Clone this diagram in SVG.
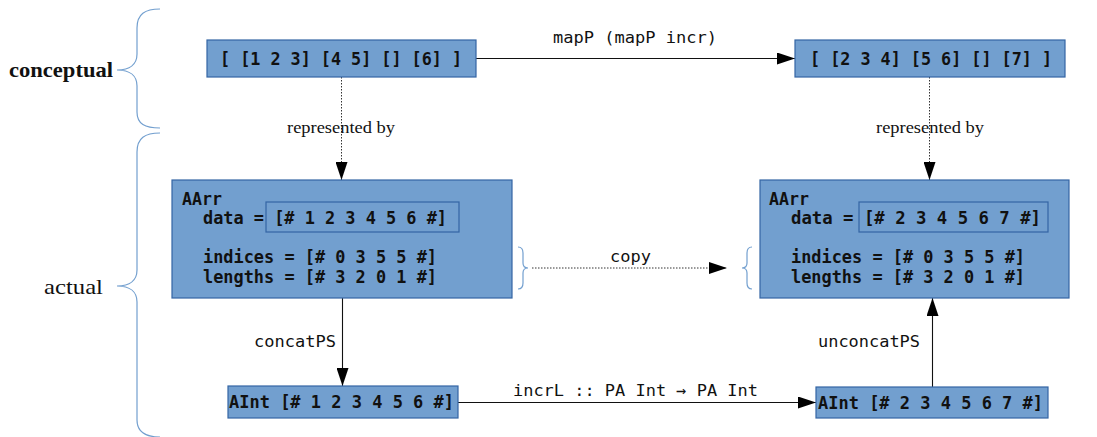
<svg xmlns="http://www.w3.org/2000/svg" width="1097" height="437" viewBox="0 0 1097 437">
  <style>
    .box { fill: #729fcf; stroke: #3465a4; stroke-width: 1.2; }
    .inner { fill: none; stroke: #3465a4; stroke-width: 1.2; }
    .code { font-family: "DejaVu Sans Mono", "Liberation Mono", monospace; font-weight: bold; font-size: 18px; fill: #111; }
    .lbl { font-family: "DejaVu Sans Mono", "Liberation Mono", monospace; font-size: 16.5px; fill: #111; }
    .serif { font-family: "Liberation Serif", "DejaVu Serif", serif; fill: #111; }
    .brace { fill: none; stroke: #729fcf; stroke-width: 1.2; }
    .solid { fill: none; stroke: #111; stroke-width: 1.1; }
    .dot { fill: none; stroke: #333; stroke-width: 1; stroke-dasharray: 1.5 1.5; }
  </style>
  <defs>
    <marker id="arrow" markerUnits="userSpaceOnUse" markerWidth="18" markerHeight="12" refX="18" refY="6" orient="auto">
      <path d="M0,0 L18,6 L0,12 z" fill="#000"/>
    </marker>
  </defs>

  <!-- level braces and captions -->
  <g id="levels">
    <path class="brace" d="M160,9 C145,9 137,14 137,28 L137,54 C137,64 130,70 117,70 C130,70 137,76 137,86 L137,112 C137,124 145,128 160,128"/>
    <path class="brace" d="M160,133 C145,133 137,138 137,152 L137,270 C137,280 130,286 117,286 C130,286 137,292 137,302 L137,420 C137,432 145,437 160,437"/>
    <text class="serif" x="9" y="77" font-size="22" font-weight="bold" textLength="104" lengthAdjust="spacingAndGlyphs">conceptual</text>
    <text class="serif" x="44" y="294" font-size="22" textLength="59" lengthAdjust="spacingAndGlyphs">actual</text>
  </g>

  <!-- connectors -->
  <g id="connectors">
    <line class="solid" x1="476" y1="58.5" x2="795" y2="58.5" marker-end="url(#arrow)"/>
    <text class="lbl" x="553" y="43" textLength="164" lengthAdjust="spacingAndGlyphs">mapP (mapP incr)</text>

    <line class="dot" x1="341.5" y1="77" x2="341.5" y2="180" marker-end="url(#arrow)"/>
    <text class="serif" x="287" y="133" font-size="16" textLength="108" lengthAdjust="spacingAndGlyphs">represented by</text>

    <line class="dot" x1="929.5" y1="77" x2="929.5" y2="180" marker-end="url(#arrow)"/>
    <text class="serif" x="876" y="133" font-size="16" textLength="108" lengthAdjust="spacingAndGlyphs">represented by</text>

    <!-- small braces around indices/lengths, joined by the copy arrow -->
    <path class="brace" d="M518,247 C522,247 523,249 523,253 L523,263 C523,266 525,268 528,268 C525,268 523,270 523,273 L523,283 C523,287 522,289 518,289"/>
    <path class="brace" d="M752,247 C748,247 747,249 747,253 L747,263 C747,266 745,268 742,268 C745,268 747,270 747,273 L747,283 C747,287 748,289 752,289"/>
    <line class="dot" x1="532" y1="268" x2="727" y2="268" marker-end="url(#arrow)"/>
    <text class="lbl" x="610" y="262" textLength="41" lengthAdjust="spacingAndGlyphs">copy</text>

    <line class="solid" x1="342.5" y1="298" x2="342.5" y2="386" marker-end="url(#arrow)"/>
    <text class="lbl" x="254" y="347" textLength="82" lengthAdjust="spacingAndGlyphs">concatPS</text>

    <line class="solid" x1="932.5" y1="387" x2="932.5" y2="298" marker-end="url(#arrow)"/>
    <text class="lbl" x="818" y="347" textLength="102" lengthAdjust="spacingAndGlyphs">unconcatPS</text>

    <line class="solid" x1="458" y1="402.5" x2="816" y2="402.5" marker-end="url(#arrow)"/>
    <text class="lbl" x="513" y="396" textLength="245" lengthAdjust="spacingAndGlyphs">incrL :: PA Int → PA Int</text>
  </g>

  <!-- nested list, before -->
  <g id="list-in">
    <rect class="box" x="207" y="40" width="269" height="37"/>
    <text class="code" x="220" y="65" textLength="242" lengthAdjust="spacingAndGlyphs">[ [1 2 3] [4 5] [] [6] ]</text>
  </g>

  <!-- nested list, after -->
  <g id="list-out">
    <rect class="box" x="795" y="40" width="270" height="37"/>
    <text class="code" x="810" y="65" textLength="242" lengthAdjust="spacingAndGlyphs">[ [2 3 4] [5 6] [] [7] ]</text>
  </g>

  <!-- array representation, before -->
  <g id="aarr-in">
    <rect class="box" x="172" y="180" width="340" height="118"/>
    <rect class="inner" x="266" y="202" width="193" height="30"/>
    <text class="code" x="182" y="205" textLength="40" lengthAdjust="spacingAndGlyphs">AArr</text>
    <text class="code" x="203" y="224" textLength="244" lengthAdjust="spacingAndGlyphs">data = [# 1 2 3 4 5 6 #]</text>
    <text class="code" x="203" y="263" textLength="234" lengthAdjust="spacingAndGlyphs">indices = [# 0 3 5 5 #]</text>
    <text class="code" x="203" y="283" textLength="234" lengthAdjust="spacingAndGlyphs">lengths = [# 3 2 0 1 #]</text>
  </g>

  <!-- array representation, after -->
  <g id="aarr-out">
    <rect class="box" x="760" y="180" width="309" height="118"/>
    <rect class="inner" x="859" y="202" width="189" height="30"/>
    <text class="code" x="769" y="205" textLength="40" lengthAdjust="spacingAndGlyphs">AArr</text>
    <text class="code" x="791" y="224" textLength="250" lengthAdjust="spacingAndGlyphs">data = [# 2 3 4 5 6 7 #]</text>
    <text class="code" x="791" y="263" textLength="234" lengthAdjust="spacingAndGlyphs">indices = [# 0 3 5 5 #]</text>
    <text class="code" x="791" y="283" textLength="234" lengthAdjust="spacingAndGlyphs">lengths = [# 3 2 0 1 #]</text>
  </g>

  <!-- flat data, before -->
  <g id="aint-in">
    <rect class="box" x="228" y="386" width="230" height="32"/>
    <text class="code" x="229" y="408" textLength="225" lengthAdjust="spacingAndGlyphs">AInt [# 1 2 3 4 5 6 #]</text>
  </g>

  <!-- flat data, after -->
  <g id="aint-out">
    <rect class="box" x="816" y="387" width="232" height="31"/>
    <text class="code" x="818" y="409" textLength="225" lengthAdjust="spacingAndGlyphs">AInt [# 2 3 4 5 6 7 #]</text>
  </g>
</svg>
